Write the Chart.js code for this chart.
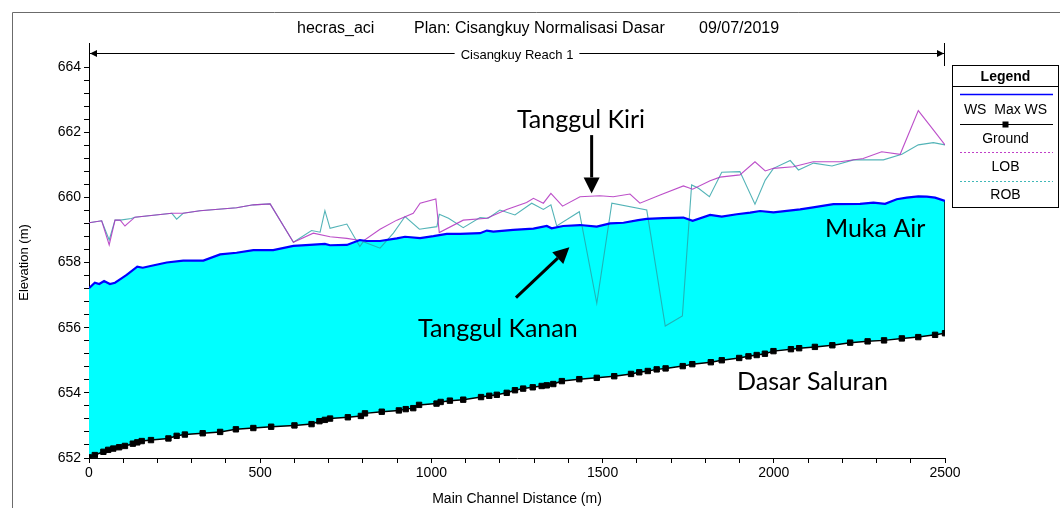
<!DOCTYPE html>
<html>
<head>
<meta charset="utf-8">
<script src="https://cdn.jsdelivr.net/npm/chart.js"></script>
<style>
  html, body { margin: 0; padding: 0; background: #fff; }
  #wrap { width: 1060px; height: 508px; position: relative; }
</style>
</head>
<body>
<div id="wrap"><canvas id="profile" width="1060" height="508"></canvas></div>
<script>
// Water surface profile (WS Max WS)
const wsStations = [0,17,30,44,61,76,96,110,141,157,183,227,275,334,383,431,480,538,597,645,689,704,753,791,811,850,899,923,967,1006,1045,1084,1142,1162,1181,1239,1298,1337,1351,1385,1434,1483,1522,1561,1604,1629,1677,1736,1763,1814,1848,1892,1931,1960,1999,2077,2115,2174,2252,2291,2325,2359,2388,2422,2447,2471,2500];
const wsElev = [657.21,657.38,657.34,657.43,657.34,657.38,657.52,657.62,657.87,657.84,657.90,658.00,658.06,658.06,658.25,658.30,658.38,658.38,658.51,658.54,658.57,658.53,658.54,658.69,658.66,658.66,658.74,658.79,658.75,658.81,658.88,658.88,658.90,658.98,658.95,659.00,659.04,659.12,659.05,659.12,659.15,659.10,659.20,659.22,659.30,659.34,659.36,659.38,659.28,659.46,659.41,659.48,659.53,659.58,659.54,659.63,659.69,659.79,659.80,659.84,659.80,659.94,659.99,660.03,660.02,659.99,659.89];

// Channel bed (Ground)
const groundStations = [0,17,42,56,71,88,105,128,141,154,181,232,256,280,332,383,429,480,532,600,650,673,689,704,756,794,806,855,905,925,947,964,1015,1027,1054,1093,1145,1169,1191,1220,1244,1268,1296,1322,1337,1356,1381,1432,1483,1534,1583,1607,1632,1658,1684,1734,1762,1816,1848,1899,1926,1950,1974,1999,2050,2074,2120,2171,2223,2274,2322,2374,2422,2471,2500];
const groundElev = [652.02,652.09,652.19,652.25,652.29,652.33,652.37,652.44,652.48,652.52,652.55,652.60,652.68,652.72,652.76,652.80,652.88,652.92,652.96,653.00,653.04,653.13,653.17,653.21,653.25,653.29,653.37,653.42,653.46,653.50,653.53,653.63,653.67,653.72,653.76,653.79,653.87,653.91,653.94,654.00,654.08,654.13,654.17,654.21,654.23,654.27,654.36,654.42,654.46,654.51,654.58,654.63,654.67,654.72,654.75,654.82,654.88,654.94,655.00,655.07,655.12,655.16,655.20,655.28,655.34,655.37,655.41,655.46,655.54,655.58,655.61,655.67,655.71,655.78,655.83];

// Left overbank (LOB)
const lobStations = [0,37,59,76,91,105,134,242,275,324,431,480,529,597,655,704,753,801,850,899,947,967,1013,1023,1093,1162,1220,1278,1298,1327,1349,1383,1434,1492,1531,1580,1609,1668,1736,1763,1814,1843,1901,1945,1975,1999,2057,2115,2193,2261,2315,2369,2422,2466,2500];
const lobElev = [659.22,659.28,658.54,659.30,659.30,659.12,659.39,659.51,659.51,659.59,659.68,659.77,659.80,658.62,658.90,658.79,658.74,658.66,659.02,659.30,659.51,659.82,659.95,658.92,659.30,659.36,659.63,659.84,659.97,659.82,660.12,659.73,660.02,660.05,660.02,660.10,659.82,660.07,660.35,660.25,660.51,660.62,660.69,661.09,660.81,660.89,660.94,661.09,661.09,661.19,661.40,661.32,662.66,662.07,661.61];

// Right overbank (ROB)
const robStations = [0,37,59,76,91,124,134,242,256,275,324,431,480,529,597,650,675,689,704,753,791,801,850,889,923,965,1016,1023,1050,1093,1142,1166,1200,1244,1293,1327,1349,1366,1432,1483,1527,1629,1683,1733,1760,1780,1812,1848,1901,1945,1975,1999,2048,2072,2116,2170,2233,2320,2374,2422,2466,2500];
const robElev = [659.22,659.28,658.69,659.30,659.30,659.35,659.39,659.51,659.33,659.51,659.59,659.68,659.77,659.80,658.62,658.98,658.93,659.59,659.05,659.18,658.49,658.64,658.44,658.90,659.41,659.02,659.10,659.48,659.36,659.07,659.38,659.36,659.61,659.46,659.82,659.63,659.77,659.12,659.56,656.75,659.82,659.61,656.05,656.36,660.38,660.28,660.02,660.77,660.79,659.79,660.53,660.89,661.13,660.84,661.05,660.96,661.15,661.15,661.32,661.61,661.68,661.61];

// Axis ranges and labelled ticks
const xRange = [0, 2500];
const yRange = [652, 664];
const xMajorTicks = [0, 500, 1000, 1500, 2000, 2500];
const yMajorTicks = [652, 654, 656, 658, 660, 662, 664];

// Header texts
const runName = 'hecras_aci';
const planName = 'Plan: Cisangkuy Normalisasi Dasar';
const runDate = '09/07/2019';
const reachName = 'Cisangkuy Reach 1';
const legendItems = ['WS  Max WS', 'Ground', 'LOB', 'ROB'];

// Callouts placed in data units (station, elevation)
const callouts = [
  { text: 'Tanggul Kiri',  x: 1437, y: 662.12 },
  { text: 'Tanggul Kanan', x: 1194, y: 655.72 },
  { text: 'Muka Air',      x: 2296, y: 658.77 },
  { text: 'Dasar Saluran', x: 2113, y: 654.09 }
];
const pointers = [
  { from: [1468, 661.91], to: [1468, 660.12] },
  { from: [1247, 656.92], to: [1403, 658.47] }
];

const toPoints = (xs, ys) => xs.map((s, i) => ({ x: s, y: ys[i] }));
const lastOf = a => a[a.length - 1];

const SANS = "'Liberation Sans', Arial, sans-serif";
const NOTE = "Lato, 'Open Sans', sans-serif";

function arrow(ctx, x1, y1, x2, y2, headLen, headHalf, width) {
  const ang = Math.atan2(y2 - y1, x2 - x1);
  const bx = x2 - headLen * Math.cos(ang), by = y2 - headLen * Math.sin(ang);
  ctx.save();
  ctx.strokeStyle = '#000'; ctx.fillStyle = '#000'; ctx.lineWidth = width;
  ctx.beginPath(); ctx.moveTo(x1, y1); ctx.lineTo(bx, by); ctx.stroke();
  ctx.beginPath();
  ctx.moveTo(x2, y2);
  ctx.lineTo(bx + headHalf * Math.sin(ang), by - headHalf * Math.cos(ang));
  ctx.lineTo(bx - headHalf * Math.sin(ang), by + headHalf * Math.cos(ang));
  ctx.closePath(); ctx.fill();
  ctx.restore();
}

const frameAndNotes = {
  id: 'frameAndNotes',
  beforeDraw(chart) {
    const ctx = chart.ctx;
    ctx.save();
    ctx.fillStyle = '#fff';
    ctx.fillRect(0, 0, chart.width, chart.height);
    ctx.restore();
  },
  afterDraw(chart) {
    const { ctx, chartArea: a, scales: { x, y } } = chart;
    ctx.save();

    // outer frame
    ctx.strokeStyle = '#6b6b6b'; ctx.lineWidth = 1;
    ctx.beginPath(); ctx.moveTo(12.5, chart.height); ctx.lineTo(12.5, 12.5); ctx.lineTo(chart.width, 12.5); ctx.stroke();

    // plot header
    ctx.fillStyle = '#000'; ctx.textBaseline = 'middle'; ctx.textAlign = 'left';
    ctx.font = '16px ' + SANS;
    ctx.fillText(runName, 297, 29);
    ctx.fillText(planName, 414, 29);
    ctx.fillText(runDate, 699, 29);

    // reach bracket
    const rL = x.getPixelForValue(xRange[0]), rR = x.getPixelForValue(xRange[1]);
    const rY = 53.5;
    ctx.font = '13px ' + SANS; ctx.textAlign = 'center';
    const mid = (rL + rR) / 2;
    const tw = ctx.measureText(reachName).width;
    ctx.fillText(reachName, mid, rY + 2);
    ctx.strokeStyle = '#000'; ctx.lineWidth = 1;
    ctx.beginPath();
    ctx.moveTo(rL + 1, rY); ctx.lineTo(mid - tw / 2 - 6, rY);
    ctx.moveTo(mid + tw / 2 + 6, rY); ctx.lineTo(rR - 1, rY);
    ctx.moveTo(Math.round(rL) + 0.5, 43); ctx.lineTo(Math.round(rL) + 0.5, a.top);
    ctx.moveTo(Math.round(rR) - 0.5, 43); ctx.lineTo(Math.round(rR) - 0.5, a.top - 1);
    ctx.stroke();
    ctx.fillStyle = '#000';
    ctx.beginPath(); ctx.moveTo(rL + 1, rY); ctx.lineTo(rL + 8, rY - 3.5); ctx.lineTo(rL + 8, rY + 3.5); ctx.closePath(); ctx.fill();
    ctx.beginPath(); ctx.moveTo(rR - 1, rY); ctx.lineTo(rR - 8, rY - 3.5); ctx.lineTo(rR - 8, rY + 3.5); ctx.closePath(); ctx.fill();

    // legend box
    const L = 952.5, T = 65.5, R = 1058.5, B = 207.5, cx = (L + R) / 2;
    ctx.fillStyle = '#fff'; ctx.fillRect(L, T, R - L, B - T);
    ctx.strokeStyle = '#000'; ctx.lineWidth = 1;
    ctx.strokeRect(L, T, R - L, B - T);
    ctx.beginPath(); ctx.moveTo(L, 86.5); ctx.lineTo(R, 86.5); ctx.stroke();
    ctx.fillStyle = '#000'; ctx.textAlign = 'center'; ctx.textBaseline = 'middle';
    ctx.font = 'bold 14px ' + SANS;
    ctx.fillText('Legend', cx, 77);
    ctx.font = '14px ' + SANS;
    const lx1 = 960, lx2 = 1053;
    // WS
    ctx.strokeStyle = '#0000ff'; ctx.lineWidth = 1.5;
    ctx.beginPath(); ctx.moveTo(lx1, 94.5); ctx.lineTo(lx2, 94.5); ctx.stroke();
    ctx.fillText(legendItems[0], cx, 110);
    // Ground
    ctx.strokeStyle = '#000'; ctx.lineWidth = 1;
    ctx.beginPath(); ctx.moveTo(lx1, 124.5); ctx.lineTo(lx2, 124.5); ctx.stroke();
    ctx.fillRect(cx - 3, 121.5, 6, 6);
    ctx.fillText(legendItems[1], cx, 139);
    // LOB
    ctx.setLineDash([2, 2]);
    ctx.strokeStyle = '#c040c8'; ctx.lineWidth = 1;
    ctx.beginPath(); ctx.moveTo(lx1, 152.5); ctx.lineTo(lx2, 152.5); ctx.stroke();
    ctx.fillText(legendItems[2], cx, 167);
    // ROB
    ctx.strokeStyle = '#40b8b8';
    ctx.beginPath(); ctx.moveTo(lx1, 181.5); ctx.lineTo(lx2, 181.5); ctx.stroke();
    ctx.setLineDash([]);
    ctx.fillText(legendItems[3], cx, 195);

    // callouts
    ctx.font = '25px ' + NOTE; ctx.textAlign = 'center'; ctx.textBaseline = 'alphabetic';
    ctx.fillStyle = '#000';
    callouts.forEach(c => ctx.fillText(c.text, x.getPixelForValue(c.x), y.getPixelForValue(c.y)));
    pointers.forEach(p => arrow(ctx,
      x.getPixelForValue(p.from[0]), y.getPixelForValue(p.from[1]),
      x.getPixelForValue(p.to[0]), y.getPixelForValue(p.to[1]), 16, 8, 3));

    ctx.restore();
  }
};

new Chart(document.getElementById('profile'), {
  type: 'scatter',
  data: {
    datasets: [
      {
        label: 'WS Max WS',
        data: toPoints(wsStations, wsElev),
        showLine: true,
        borderColor: '#0000ff',
        borderWidth: 2.2,
        backgroundColor: '#00ffff',
        pointRadius: 0,
        fill: { target: 1 },
        tension: 0
      },
      {
        label: 'Ground',
        data: toPoints(groundStations, groundElev),
        showLine: true,
        borderColor: '#000',
        borderWidth: 1.5,
        backgroundColor: '#000',
        pointStyle: 'rect',
        pointRadius: 3.8,
        pointBorderWidth: 1,
        pointBackgroundColor: '#000',
        pointBorderColor: '#000',
        fill: false
      },
      {
        label: 'LOB',
        data: toPoints(lobStations, lobElev),
        showLine: true,
        borderColor: 'rgba(176,48,192,0.85)',
        borderWidth: 1.1,
        pointRadius: 0,
        fill: false
      },
      {
        label: 'ROB',
        data: toPoints(robStations, robElev),
        showLine: true,
        borderColor: 'rgba(40,160,165,0.8)',
        borderWidth: 1.1,
        pointRadius: 0,
        fill: false
      },
      {
        label: 'end section',
        data: [
          { x: lastOf(wsStations), y: lastOf(wsElev) },
          { x: lastOf(groundStations), y: lastOf(groundElev) }
        ],
        showLine: true,
        borderColor: '#000',
        borderWidth: 1.5,
        pointRadius: 0,
        fill: false
      }
    ]
  },
  options: {
    responsive: false,
    animation: false,
    events: [],
    layout: { padding: { left: 12, top: 67, right: 115, bottom: 0 } },
    plugins: {
      legend: { display: false },
      tooltip: { enabled: false },
      title: { display: false },
      filler: { drawTime: 'beforeDatasetsDraw' }
    },
    scales: {
      x: {
        type: 'linear',
        min: xRange[0], max: xRange[1],
        afterFit(s) { s.height = 50; },
        border: { display: true, color: '#000', width: 1 },
        grid: { drawOnChartArea: false, drawTicks: true, tickLength: 5, tickColor: '#000' },
        ticks: {
          stepSize: 100, autoSkip: false, maxRotation: 0, padding: 2,
          color: '#000', font: { family: SANS, size: 14 },
          callback: v => xMajorTicks.includes(Math.round(v)) && Math.abs(v - Math.round(v)) < 1e-6 ? String(Math.round(v)) : ''
        },
        title: {
          display: true, text: 'Main Channel Distance (m)', color: '#000',
          font: { family: SANS, size: 14 }, padding: { top: 0, bottom: 0 }
        }
      },
      y: {
        type: 'linear',
        min: yRange[0], max: yRange[1],
        afterFit(s) { s.width = 77; },
        border: { display: true, color: '#000', width: 1 },
        grid: { drawOnChartArea: false, drawTicks: true, tickLength: 5, tickColor: '#000' },
        ticks: {
          stepSize: 0.4, autoSkip: false, padding: 3,
          color: '#000', font: { family: SANS, size: 14 },
          callback: v => yMajorTicks.some(t => Math.abs(t - v) < 1e-6) ? String(Math.round(v)) : ''
        },
        title: {
          display: true, text: 'Elevation (m)', color: '#000',
          font: { family: SANS, size: 13 }, padding: { top: 5, bottom: 0 }
        }
      }
    }
  },
  plugins: [frameAndNotes]
});
</script>
</body>
</html>
